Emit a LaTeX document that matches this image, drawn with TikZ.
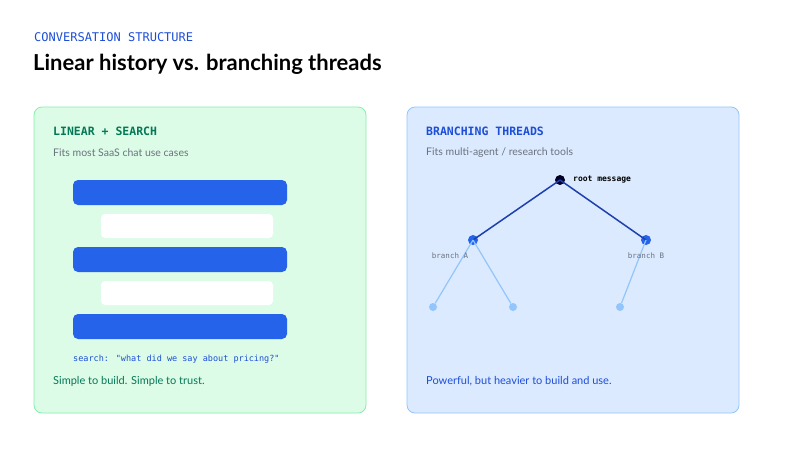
\documentclass[tikz,border=0pt]{standalone}
\usepackage{fontspec}
\setmainfont{Lato}
\newfontfamily\mono{DejaVu Sans Mono}
\begin{document}
\begin{tikzpicture}[x=1pt,y=-1pt,
  panel/.style={draw, rounded corners=8pt, line width=0.8pt},
  bar/.style={fill=barblue, rounded corners=5pt},
  wbar/.style={fill=white, rounded corners=4pt},
  lbl/.style={anchor=west, inner sep=0pt},
  dot/.style={circle, inner sep=0pt, minimum size=#1},
  ]
\definecolor{barblue}{HTML}{2563EB}
\definecolor{gfill}{HTML}{DCFCE7}
\definecolor{gline}{HTML}{86EFAC}
\definecolor{bfill}{HTML}{DBEAFE}
\definecolor{bline}{HTML}{93C5FD}
\definecolor{gtext}{HTML}{047857}
\definecolor{btext}{HTML}{1D4ED8}
\definecolor{grey}{HTML}{6B7280}
\definecolor{dark}{HTML}{1E40AF}
\definecolor{light}{HTML}{93C5FD}
\useasboundingbox (0,0) rectangle (800,467);
\fill[white] (0,0) rectangle (800,467);
\node[lbl, text=btext] (kick) at (34,37) {\mono\fontsize{12}{14}\selectfont CONVERSATION STRUCTURE};
\node[lbl, text=black] (title) at (33,64) {\fontsize{22}{26}\selectfont\bfseries Linear history vs. branching threads};
% left panel
\draw[panel, fill=gfill, draw=gline] (34,107) rectangle (366,413);
\node[lbl, text=gtext] (lt) at (53,131) {\mono\bfseries\fontsize{11.5}{14}\selectfont LINEAR + SEARCH};
\node[lbl, text=grey] (ls) at (53,153) {\fontsize{10.5}{12}\selectfont Fits most SaaS chat use cases};
\path[bar] (73,180) rectangle (287,205);
\path[wbar] (101,214) rectangle (273,238);
\path[bar] (73,247) rectangle (287,272);
\path[wbar] (101,281) rectangle (273,305);
\path[bar] (73,314) rectangle (287,339);
\node[lbl, text=btext] (sq) at (73,359) {\mono\fontsize{8.5}{10}\selectfont search: "what did we say about pricing?"};
\node[lbl, text=gtext] (lf) at (53,381) {\fontsize{11}{13}\selectfont Simple to build. Simple to trust.};
% right panel
\draw[panel, fill=bfill, draw=bline] (407,107) rectangle (739,413);
\node[lbl, text=btext] (rt) at (426,131) {\mono\bfseries\fontsize{11.5}{14}\selectfont BRANCHING THREADS};
\node[lbl, text=grey] (rs) at (426,153) {\fontsize{10.5}{12}\selectfont Fits multi-agent / research tools};
\node[dot=10pt, fill=black!85!blue] (root) at (560,180) {};
\node[dot=10pt, fill=barblue] (a) at (473,240) {};
\node[dot=10pt, fill=barblue] (b) at (646,240) {};
\node[dot=8pt, fill=light] (a1) at (433,307) {};
\node[dot=8pt, fill=light] (a2) at (513,307) {};
\node[dot=8pt, fill=light] (b1) at (620,307) {};
\draw[dark, line width=1.5pt] (root.center) -- (a.center) (root.center) -- (b.center);
\draw[light, line width=1.2pt] (a.center) -- (a1) (a.center) -- (a2) (b.center) -- (b1);
\node[lbl, text=black] (rl) at (573,180) {\mono\bfseries\fontsize{8}{10}\selectfont root message};
\node[text=grey, inner sep=0pt] (al) at (450,256) {\mono\fontsize{7.5}{9}\selectfont branch A};
\node[text=grey, inner sep=0pt] (bl) at (646,256) {\mono\fontsize{7.5}{9}\selectfont branch B};
\node[lbl, text=btext] (rf) at (426,381) {\fontsize{11}{13}\selectfont Powerful, but heavier to build and use.};
\end{tikzpicture}
\end{document}
